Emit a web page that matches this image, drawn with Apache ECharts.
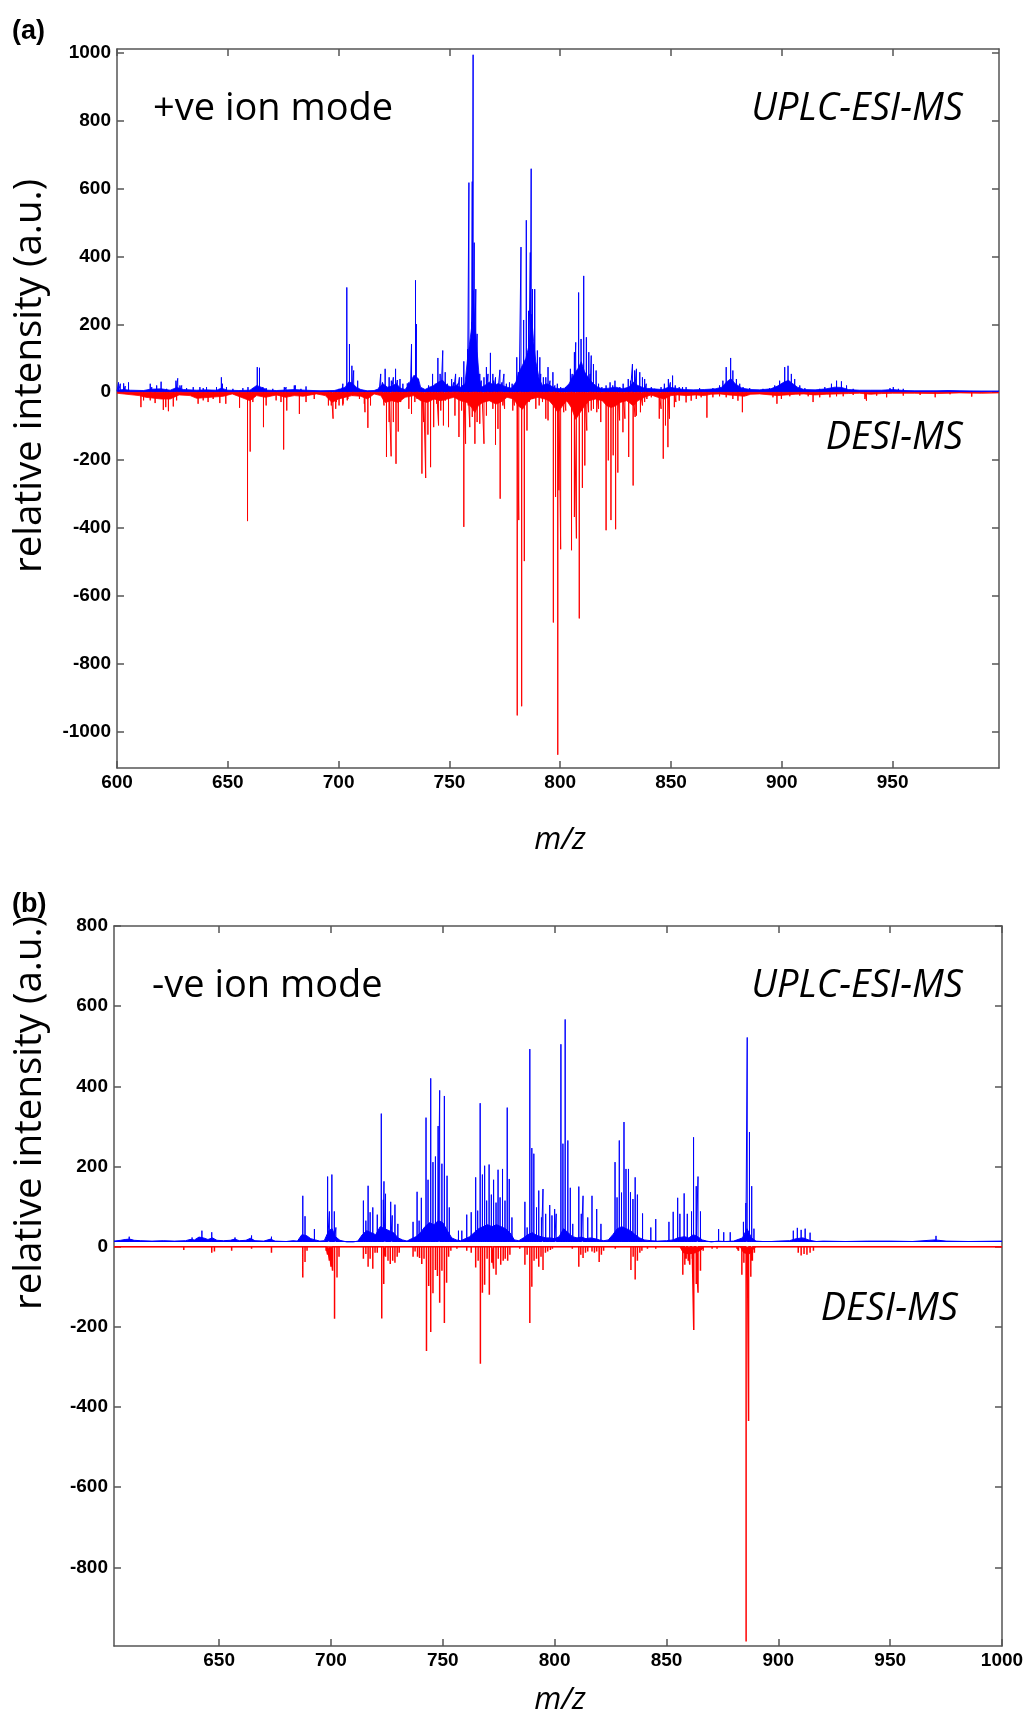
<!DOCTYPE html>
<html><head><meta charset="utf-8">
<script src="https://cdn.jsdelivr.net/npm/echarts@6/dist/echarts.min.js"></script>
<style>html,body{margin:0;padding:0;background:#fff}#c{width:1031px;height:1718px}</style>
</head><body><div id="c"></div>
<script>
// ---------------- tick labels ----------------
const xTicksA = [600, 650, 700, 750, 800, 850, 900, 950];
const yTicksA = [-1000, -800, -600, -400, -200, 0, 200, 400, 600, 800, 1000];
const xTicksB = [650, 700, 750, 800, 850, 900, 950, 1000];
const yTicksB = [-800, -600, -400, -200, 0, 200, 400, 600, 800];

// ---------------- panel (a): +ve ion mode ----------------
// UPLC-ESI-MS (blue, upward): main peaks [m/z, intensity]
const posPeaksA = [
[600.7,29],[603.0,26],[605.2,29],[615.0,25],[619.9,31],[627.4,41],[628.4,20],[637.4,15],[640.4,15],[647.1,44],[663.3,74],[664.3,72],[675.5,15],[680.0,20],[685.3,17],
[701.9,25],[703.7,309],[704.9,142],[706.0,78],[706.8,64],[708.6,34],
[719.0,54],[719.8,29],[721.0,69],[724.7,44],[725.7,69],[727.7,39],[731.7,29],[732.9,142],[734.7,330],[735.1,201],[735.9,39],
[742.4,54],[744.8,101],[745.8,54],[747.0,123],[748.1,59],[751.0,39],[752.8,54],[754.5,44],[756.5,91],
[758.2,127],[758.8,618],[760.0,206],[760.3,621],[760.7,995],[761.2,441],[761.9,304],[762.5,172],[763.7,54],
[766.7,74],[768.5,116],[769.6,54],[770.8,44],[772.8,66],[774.6,54],[777.1,29],
[780.4,103],[781.1,59],[782.3,428],[783.5,213],[784.7,507],[785.7,240],[786.5,412],[786.9,659],[787.5,304],[788.5,304],[789.7,123],[790.8,103],
[792.4,44],[794.5,74],[796.7,59],[798.7,25],
[804.6,69],[806.4,118],[807.0,147],[808.3,294],[809.4,157],[810.6,343],[811.8,162],[812.9,118],[814.0,108],[815.0,83],[816.2,64],
[822.5,29],[824.7,34],[830.7,39],[832.6,83],[834.4,69],[835.9,59],[838.1,39],[848.8,39],[850.7,49],
[873.4,34],[874.9,74],[876.9,101],[877.9,64],[879.5,39],
[896.8,20],[899.0,34],[901.3,74],[902.8,78],[904.3,54],[905.8,39],
[922.4,25],[924.7,34],[926.9,32],[929.2,20],[950.3,15],[974.4,7]
];
// UPLC-ESI-MS small peaks
const posMinorA = [
[601.5,25],[603.7,18],[615.7,15],[617.9,20],[622.4,10],[626.6,34],[629.2,20],[631.4,12],[634.4,15],[638.9,12],[644.9,15],[647.6,25],[649.4,15],[652.3,10],[656.8,12],[659.1,15],[661.3,12],[665.8,15],[667.3,12],[670.3,10],[673.3,8],[676.3,15],[680.5,20],[683.0,10],[688.2,8],[695.7,6],[700.2,10],[701.7,15],
[718.3,15],[722.8,44],[723.8,34],[726.5,36],[729.0,25],[731.0,26],[732.4,34],[738.1,10],[740.6,20],[743.6,25],[746.3,34],[749.1,25],[749.9,15],[751.9,29],[753.6,25],[755.5,44],
[764.4,34],[765.6,44],[767.4,54],[769.9,34],[771.9,25],[773.7,29],[775.7,25],[778.3,25],[779.3,20],[781.5,54],[791.2,54],[793.5,44],[795.4,34],[797.6,20],[800.2,15],[802.4,15],[805.4,54],
[813.5,54],[817.3,25],[818.8,15],[820.7,20],[823.7,20],[826.9,15],[828.4,25],[831.7,34],[833.6,64],[837.1,44],[838.8,25],[841.1,15],[842.6,10],[845.5,15],[847.0,25],[849.7,29],[851.9,20],[853.7,15],[855.2,15],
[856.8,15],[862.9,12],[868.9,12],[871.9,20],[881.0,25],[882.5,15],[885.5,12],[891.5,10],[894.5,12],[908.1,20],[910.4,12],[917.1,10],[919.4,15],[932.2,10],[948.8,12],[952.6,10],[954.8,10],[966.9,6],[968.4,8],[986.5,4]
];
// UPLC-ESI-MS dense low-level envelope
const posFloorA = [
[600,6],[603,8],[606,6],[612,5],[615,9],[620,10],[624,6],[627,14],[630,8],[636,6],[640,7],[645,6],[647,12],[650,6],[655,5],[660,6],[663,20],[665,15],[668,6],[672,5],[680,8],[685,6],[692,4],[698,5],
[701,10],[703,15],[704.5,30],[706,28],[708,15],[710,8],[713,4],[716,5],[718,10],[720,25],[722,15],[724,18],[726,25],[728,12],[730,8],[732,25],[734,50],[736,40],[737,15],[739,8],
[741,15],[743,20],[745,30],[747,35],[749,20],[751,15],[753,20],[755,15],[757,25],[758.2,100],[759,140],[760,190],[760.7,300],[761.5,200],[762.5,120],[763.5,40],[764.5,15],
[766,20],[768,30],[770,20],[772,25],[774,20],[776,15],[778,12],[780,30],[781.5,60],[783,80],[784.5,100],[786,140],[787,230],[788,150],[789,90],[790.5,40],[792,20],[794,25],[796,18],[798,12],[800,10],
[802,12],[804,25],[806,50],[808,70],[809.5,90],[811,60],[813,40],[815,25],[817,15],[819,10],[822,12],[825,15],[828,10],[831,15],[833,30],[835,20],[838,12],[842,10],[846,8],[849,15],[852,12],[856,8],[860,7],[865,8],
[870,10],[873,15],[875,30],[877,40],[879,25],[882,12],[886,8],[890,7],[895,10],[898,18],[901,30],[903,35],[905,25],[907,15],[910,8],[915,7],[920,10],[924,15],[927,14],[930,8],[935,6],[940,6],[945,6],[950,8],[955,5],[960,4],[970,4],[975,5],[980,4],[990,3],[998,3]
];
// DESI-MS (red, downward): main peaks
const negPeaksA = [
[610.8,-44],[612.0,-24],[615.0,-24],[617.2,-32],[620.9,-52],[622.0,-44],[623.2,-56],[625.4,-42],[626.9,-24],[636.6,-34],[638.9,-24],[641.1,-29],[643.4,-20],[646.4,-32],[649.1,-34],
[655.3,-46],[658.9,-380],[660.1,-175],[661.3,-29],[666.1,-103],[667.3,-39],[671.8,-24],[674.0,-29],[675.2,-169],[676.6,-54],[682.3,-64],[685.3,-29],[689.0,-20],
[695.4,-39],[697.5,-78],[698.7,-49],[700.2,-39],[702.0,-34],[703.9,-24],[711.9,-59],[713.2,-105],[714.4,-39],
[721.6,-191],[722.8,-88],[723.7,-189],[724.7,-88],[725.9,-211],[726.9,-116],[731.7,-49],[737.6,-240],[738.4,-88],[739.3,-253],[740.3,-125],[741.5,-221],[742.9,-103],[745.1,-98],[747.3,-98],[749.6,-103],
[754.3,-132],[756.5,-397],[757.3,-152],[759.2,-103],[760.3,-73],[761.5,-152],[763.7,-93],[765.6,-152],[766.7,-69],[770.8,-155],[771.9,-108],[772.9,-314],[774.9,-49],[778.6,-54],
[780.6,-953],[781.3,-377],[782.6,-926],[783.8,-498],[785.0,-113],[793.5,-78],[794.5,-83],[796.9,-679],[797.9,-309],[798.9,-1069],[799.4,-289],[800.2,-463],[802.5,-54],
[805.1,-466],[806.4,-368],[807.3,-431],[808.6,-667],[810.0,-282],[811.1,-216],[812.0,-113],[814.0,-54],[816.5,-59],[818.3,-88],
[820.7,-407],[821.7,-201],[822.9,-377],[823.9,-186],[825.0,-404],[826.0,-237],[826.8,-83],[828.3,-118],[830.9,-191],[832.9,-275],[833.8,-73],[836.2,-59],[838.1,-29],
[844.7,-78],[846.5,-196],[847.5,-98],[848.6,-162],[851.5,-44],[866.2,-75],[882.2,-59],[897.8,-34],[914.1,-29],[938.2,-25],[969.2,-15],[985.7,-13]
];
// DESI-MS small peaks
const negMinorA = [
[696.7,-39],[699.0,-29],[700.4,-20],[701.9,-39],[704.2,-20],[706.4,-10],[709.4,-20],[711.6,-34],[719.8,-15],[720.5,-39],[728.0,-29],[729.5,-15],[730.5,-10],[732.9,-64],[734.4,-29],[735.4,-20],
[744.3,-34],[746.1,-54],[748.1,-25],[752.5,-69],[755.5,-54],[758.5,-39],[762.5,-88],[764.7,-25],[768.2,-25],[769.6,-49],[774.1,-39],[777.1,-15],[779.3,-39],
[786.0,-29],[787.5,-20],[789.0,-49],[790.5,-39],[792.0,-29],[800.9,-39],[801.6,-59],[803.4,-29],[812.8,-59],[815.0,-49],[817.3,-49],[819.2,-25],[829.2,-78],[834.4,-69],[837.1,-39],[839.1,-20],[841.1,-15],
[845.5,-49],[849.3,-78],[852.2,-29],[853.7,-25],[856.8,-30],[859.1,-25],[861.4,-20],[863.6,-15],[868.9,-15],[871.9,-12],[874.9,-15],[877.9,-20],[880.2,-25],[884.0,-10],[896.0,-15],[899.8,-20],[903.6,-12],
[908.1,-10],[911.9,-12],[917.1,-15],[921.7,-15],[924.7,-12],[927.7,-12],[932.2,-8],[937.5,-20],[942.8,-10],[947.3,-15],[954.8,-10],[962.4,-8],[975.9,-6],[980.5,-5]
];
// DESI-MS dense low-level envelope
const negFloorA = [
[600,-3],[610,-10],[613,-15],[620,-20],[624,-20],[628,-8],[633,-10],[636,-18],[642,-15],[648,-12],[652,-5],[656,-15],[660,-25],[663,-10],[667,-15],[672,-8],[676,-15],[680,-10],[684,-12],[690,-5],[694,-10],[697,-30],
[700,-20],[703,-15],[706,-10],[710,-12],[713,-20],[716,-5],[719,-10],[721,-30],[724,-25],[727,-30],[730,-15],[734,-10],[737,-25],[740,-30],[743,-20],[746,-25],[749,-20],[752,-15],[755,-25],[758,-30],
[760,-45],[761.5,-60],[763,-40],[765,-30],[768,-25],[771,-35],[773,-30],[776,-15],[779,-20],[781,-40],[783,-50],[785,-30],[787,-20],[790,-15],[793,-20],[795,-25],[797,-40],[799,-60],[801,-40],[803,-25],
[805,-45],[807,-80],[809,-60],[811,-40],[813,-25],[816,-20],[819,-25],[821,-40],[823,-45],[825,-40],[827,-30],[830,-25],[833,-40],[835,-25],[838,-15],[841,-8],[844,-15],[847,-20],[850,-10],[853,-8],
[857,-10],[861,-8],[865,-10],[868,-6],[872,-5],[876,-8],[880,-10],[883,-12],[886,-6],[890,-5],[895,-8],[898,-10],[902,-8],[906,-6],[910,-5],[915,-8],[920,-6],[925,-5],[930,-4],[935,-3],[940,-6],[945,-4],[950,-3],[960,-3],[970,-4],[980,-2],[990,-3],[998,-2]
];
const posBaseA = 3;

// ---------------- panel (b): -ve ion mode ----------------
const posPeaksB = [
[609.8,25],[637.9,23],[642.3,40],[646.7,36],[657.1,23],[664.5,28],[673.4,25],
[687.4,127],[688.4,76],[692.6,44],[698.5,175],[699.3,88],[700.4,180],[701.5,88],[702.2,48],
[714.5,115],[715.6,65],[716.6,152],[717.5,86],[718.7,98],[720.7,80],[722.5,332],[723.4,117],[723.7,163],[724.4,132],[726.7,112],[727.4,78],[728.6,105],[729.9,57],
[736.7,62],[738.5,137],[739.4,65],[740.4,122],[742.5,322],[743.4,167],[744.6,420],[745.6,211],[746.7,225],[747.9,301],[748.6,390],[749.6,207],[750.7,376],[751.9,177],[752.9,98],
[757.0,40],[758.5,40],[760.7,80],[762.7,86],[764.7,173],[765.6,90],[766.7,358],[767.7,180],[768.7,202],[769.6,115],[770.7,205],[771.7,130],[772.7,167],[773.8,110],[774.7,192],[775.6,123],[776.7,194],[777.8,115],[778.8,347],[779.7,169],[780.9,73],
[786.7,112],[787.7,48],[788.9,493],[789.8,246],[790.7,232],[791.9,98],[792.9,140],[794.1,73],[794.8,144],[796.0,82],[797.8,104],[798.8,78],[800.0,94],[800.7,82],
[802.8,505],[803.7,257],[804.7,567],[805.9,265],[807.0,147],[808.1,57],[810.8,150],[811.9,82],[812.7,127],[814.8,73],[816.7,127],[818.8,94],[820.7,57],
[827.0,211],[827.9,123],[828.9,265],[829.9,135],[831.0,311],[831.9,194],[833.0,194],[833.9,136],[835.0,119],[836.0,173],[837.0,130],[839.3,83],[843.0,48],[845.2,69],
[851.1,62],[853.0,87],[855.0,122],[856.0,82],[857.9,133],[859.3,82],[861.2,88],[862.1,273],[863.3,151],[864.1,175],[865.2,88],
[873.3,44],[875.6,36],[878.5,36],[884.4,62],[885.5,109],[886.1,522],[887.1,286],[888.1,151],[889.1,45],
[906.7,40],[908.5,47],[910.2,42],[912.0,45],[914.2,35],[970.5,27]
];
const posFloorB = [
[603,14],[606,16],[608,18],[610,19],[612,16],[615,15],[620,14],[625,15],[630,14],[635,15],[637,18],[639,17],[641,24],[643,22],[645,18],[647,22],[649,16],[652,15],[655,16],[657,19],[659,15],[662,16],[664,21],[666,15],[670,14],[673,19],[675,14],[680,13],[683,15],[685,14],
[687,30],[689,28],[691,20],[693,17],[695,14],[697,15],[699,40],[700.5,45],[702,25],[704,16],[707,12],[710,12],[712,14],[714,30],[716,40],[718,35],[720,30],[722,50],[724,45],[726,40],[728,35],[730,22],[732,17],[734,14],
[736,20],[738,25],[740,35],[742,50],[744,60],[746,55],[748,65],[750,60],[752,40],[754,22],[756,17],[758,15],[760,20],[762,25],[764,35],[766,45],[768,50],[770,55],[772,50],[774,55],[776,50],[778,45],[780,35],[782,17],[784,15],
[786,22],[788,30],[790,35],[792,28],[794,25],[796,22],[798,22],[800,20],[802,25],[804,45],[806,35],[808,25],[810,22],[812,24],[814,20],[816,22],[818,20],[820,17],[822,15],[824,17],[826,30],[828,45],[830,50],[832,45],[834,40],[836,30],[838,22],[840,17],
[843,15],[846,14],[850,15],[853,17],[855,22],[858,25],[860,22],[862,30],[864,25],[866,17],[868,14],[870,12],[873,14],[876,13],[880,14],[884,22],[886,45],[888,22],[890,14],[893,13],[897,13],[900,14],[905,15],[908,20],[911,22],[914,16],[917,13],[920,14],[930,13],[940,14],[950,14],[960,13],[970,17],[975,14],[985,13],[1000,14]
];
const negPeaksB = [
[634.2,-8],[646.7,-15],[647.9,-12],[655.6,-10],[664.5,-5],[673.4,-15],
[687.4,-77],[688.4,-38],[689.3,-10],[697.8,-10],[698.5,-20],[699.3,-35],[700.0,-50],[700.7,-60],[701.6,-180],[702.7,-77],[703.6,-25],
[714.5,-30],[715.6,-18],[716.6,-50],[717.5,-30],[718.7,-55],[719.7,-15],[720.7,-15],[722.7,-179],[723.6,-93],[724.4,-25],[725.5,-35],[726.5,-43],[727.6,-35],[728.6,-40],[729.6,-25],[730.5,-15],
[736.7,-25],[737.6,-12],[738.7,-25],[739.6,-28],[740.6,-43],[741.6,-30],[742.7,-260],[743.7,-98],[744.6,-213],[745.6,-116],[746.7,-58],[747.6,-73],[748.6,-140],[749.6,-60],[750.7,-190],[751.7,-90],[752.6,-25],[753.6,-10],[756.3,-5],
[760.7,-10],[762.7,-15],[764.7,-52],[765.8,-35],[766.8,-292],[767.7,-115],[768.7,-95],[769.8,-30],[770.8,-120],[771.9,-40],[772.7,-55],[773.8,-70],[774.8,-30],[775.9,-45],[777.0,-35],[777.9,-30],[779.0,-35],[780.0,-20],[784.4,-5],
[786.7,-45],[787.7,-20],[788.9,-190],[789.8,-100],[790.8,-35],[791.9,-30],[792.9,-50],[793.9,-25],[794.8,-58],[795.9,-15],[796.9,-12],[798.1,-8],[799.0,-5],[807.9,-5],
[810.8,-50],[811.7,-20],[812.7,-28],[813.8,-15],[814.8,-12],[816.7,-12],[817.8,-15],[818.8,-12],[819.9,-38],[820.9,-20],[821.9,-10],[827.1,-5],
[834.1,-58],[835.1,-25],[836.0,-82],[837.0,-35],[838.1,-15],[839.0,-10],[841.5,-5],[845.2,-5],
[857.3,-70],[858.2,-45],[858.8,-30],[859.7,-35],[860.4,-45],[861.5,-30],[862.2,-208],[863.3,-93],[864.1,-115],[865.2,-60],[866.4,-10],[870.4,-5],[872.6,-5],
[881.5,-5],[882.2,-10],[883.7,-70],[884.6,-40],[885.6,-985],[886.2,-60],[886.7,-435],[887.7,-75],[888.4,-35],[889.3,-15],
[908.9,-15],[910.2,-22],[911.5,-18],[912.8,-20],[914.2,-15],[915.7,-10]
];
const negFloorB = [
[603,0],[856,0],[857.5,-15],[860,-18],[863,-15],[865.5,-8],[867,0],[883,0],[884.5,-15],[887,-18],[888.5,-8],[890,0],[1000,0]
];
const posBaseB = 13;

// ---------------- build helpers ----------------
function stems(lists, base, xmin, xmax) {
  const pts = [].concat(...lists).sort((a, b) => a[0] - b[0]);
  const out = [[xmin, base]];
  pts.forEach(p => { out.push([p[0], base], [p[0], p[1]], [p[0], base]); });
  out.push([xmax, base]);
  return out;
}
const BLUE = '#0000ff', RED = '#ff0000', AX = '#555555';
const A = { xmin: 600, xmax: 998, ymin: -1108, ymax: 1012 };
const B = { xmin: 603, xmax: 1000, ymin: -996, ymax: 800 };
const plain = v => String(v);

function xAxes(g, r, ticks) {
  const common = {
    gridIndex: g, type: 'value', min: r.xmin, max: r.xmax,
    axisLine: { show: true, onZero: false, lineStyle: { color: AX, width: 1.5 } },
    axisTick: { show: true, inside: true, length: 7, customValues: ticks, lineStyle: { color: AX, width: 1.5 } },
    splitLine: { show: false }
  };
  return [
    Object.assign({}, common, { position: 'bottom',
      axisLabel: { show: true, customValues: ticks, formatter: plain, color: '#000', fontFamily: 'Liberation Sans', fontWeight: 'bold', fontSize: 19, margin: 5 } }),
    Object.assign({}, common, { position: 'top', axisLabel: { show: false } })
  ];
}
function yAxes(g, r, ticks) {
  const common = {
    gridIndex: g, type: 'value', min: r.ymin, max: r.ymax,
    axisLine: { show: true, onZero: false, lineStyle: { color: AX, width: 1.5 } },
    axisTick: { show: true, inside: true, length: 7, customValues: ticks, lineStyle: { color: AX, width: 1.5 } },
    splitLine: { show: false }
  };
  return [
    Object.assign({}, common, { position: 'left',
      axisLabel: { show: true, customValues: ticks, formatter: plain, color: '#000', fontFamily: 'Liberation Sans', fontWeight: 'bold', fontSize: 19, margin: 6 } }),
    Object.assign({}, common, { position: 'right', axisLabel: { show: false } })
  ];
}
function lineSeries(xi, yi, data, color, width, area, origin) {
  const s = {
    type: 'line', xAxisIndex: xi, yAxisIndex: yi, data: data, showSymbol: false, symbol: 'none',
    silent: true, animation: false, clip: true,
    lineStyle: { color: color, width: width }
  };
  if (area) s.areaStyle = { color: color, opacity: 1, origin: origin };
  return s;
}

const chart = echarts.init(document.getElementById('c'), null, { renderer: 'canvas' });
const tx = (text, x, y, size, opts) => ({
  type: 'text', x: x, y: y, silent: true,
  style: Object.assign({ text: text, fill: '#000', fontSize: size, fontFamily: 'Open Sans', align: 'left', verticalAlign: 'middle' }, opts || {})
});

chart.setOption({
  animation: false,
  backgroundColor: '#fff',
  grid: [
    { left: 117, top: 49, width: 882, height: 719, containLabel: false },
    { left: 114, top: 926, width: 888, height: 720, containLabel: false }
  ],
  xAxis: [].concat(xAxes(0, A, xTicksA), xAxes(1, B, xTicksB)),
  yAxis: [].concat(yAxes(0, A, yTicksA), yAxes(1, B, yTicksB)),
  series: [
    lineSeries(0, 0, negFloorA, RED, 0.8, true, 0),
    lineSeries(0, 0, stems([negPeaksA, negMinorA], 0, A.xmin, A.xmax), RED, 1),
    lineSeries(0, 0, posFloorA, BLUE, 0.8, true, 0),
    lineSeries(0, 0, stems([posPeaksA, posMinorA], posBaseA, A.xmin, A.xmax), BLUE, 1),
    lineSeries(2, 2, negFloorB, RED, 1, true, 0),
    lineSeries(2, 2, stems([negPeaksB], 0, B.xmin, B.xmax), RED, 1.5),
    lineSeries(2, 2, posFloorB, BLUE, 1, true, posBaseB),
    lineSeries(2, 2, stems([posPeaksB], posBaseB, B.xmin, B.xmax), BLUE, 1)
  ],
  graphic: [
    tx('(a)', 12, 32, 27, { fontFamily: 'Liberation Sans', fontWeight: 'bold' }),
    tx('+ve ion mode', 153, 109, 38),
    tx('UPLC-ESI-MS', 963, 109, 38, { align: 'right', fontStyle: 'italic' }),
    tx('DESI-MS', 963, 438, 38, { align: 'right', fontStyle: 'italic' }),
    tx('m/z', 560, 840, 31, { align: 'center', fontStyle: 'italic' }),
    Object.assign(tx('relative intensity (a.u.)', 30, 376, 38.5, { align: 'center' }), { rotation: Math.PI / 2 }),
    tx('(b)', 12, 905, 27, { fontFamily: 'Liberation Sans', fontWeight: 'bold' }),
    tx('-ve ion mode', 152, 986, 38),
    tx('UPLC-ESI-MS', 963, 986, 38, { align: 'right', fontStyle: 'italic' }),
    tx('DESI-MS', 958, 1309, 38, { align: 'right', fontStyle: 'italic' }),
    tx('m/z', 560, 1700, 31, { align: 'center', fontStyle: 'italic' }),
    Object.assign(tx('relative intensity (a.u.)', 30, 1113, 38.5, { align: 'center' }), { rotation: Math.PI / 2 })
  ]
});
</script></body></html>
